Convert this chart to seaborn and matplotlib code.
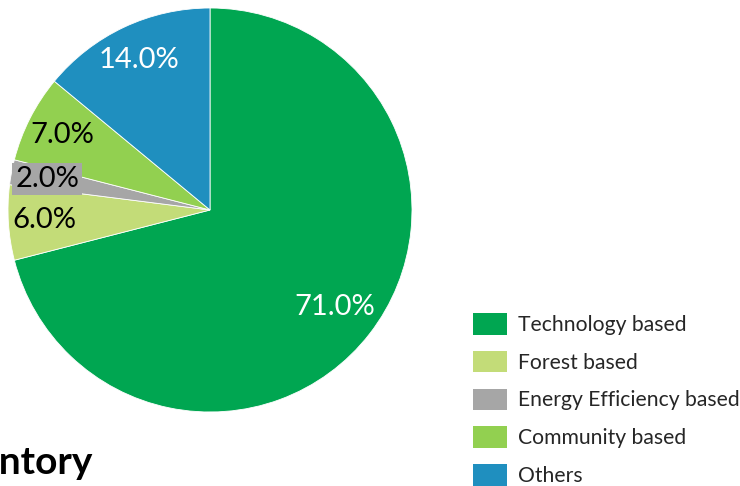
import matplotlib
matplotlib.use("Agg")
import matplotlib.pyplot as plt
import matplotlib.patches as mpatches
import numpy as np
import seaborn as sns

categories = ["Technology based", "Forest based", "Energy Efficiency based", "Community based", "Others"]
values = [71.0, 6.0, 2.0, 7.0, 14.0]
colors = ["#00A651", "#C3DC78", "#A6A6A6", "#92D050", "#1F8FBF"]
label_colors = ["white", "black", "black", "black", "white"]
title_text = "Inventory"

sns.set_theme(style="white")
plt.rcParams["font.family"] = ["Lato", "DejaVu Sans"]

W, H = 740, 486
fig = plt.figure(figsize=(W / 100, H / 100), dpi=100)
fig.patch.set_facecolor("white")

cx, cy, r = 210, 210, 202
ax = fig.add_axes([(cx - r) / W, (H - cy - r) / H, 2 * r / W, 2 * r / H])
wedges, texts, autotexts = ax.pie(
    values, colors=colors, startangle=90, counterclock=False,
    autopct="%.1f%%", pctdistance=0.82, radius=1.0,
    wedgeprops=dict(linewidth=0.6, edgecolor="white"),
    textprops=dict(fontsize=21),
)
ax.set_xlim(-1, 1)
ax.set_ylim(-1, 1)
ax.set_aspect("equal")
ax.axis("off")

for t, c in zip(autotexts, label_colors):
    t.set_color(c)
autotexts[2].set_bbox(dict(facecolor=colors[2], edgecolor="none", pad=2))

# pull the large slice's label slightly inward like the reference
w0 = wedges[0]
mid = np.deg2rad((w0.theta1 + w0.theta2) / 2)
autotexts[0].set_position((0.78 * np.cos(mid), 0.78 * np.sin(mid)))

handles = [mpatches.Patch(facecolor=c, edgecolor="none") for c in colors]
fig.legend(handles, categories, loc="upper left",
           bbox_to_anchor=(473 / W, 1 - 313 / H), frameon=False,
           fontsize=15.2, handlelength=1.63, handleheight=1.2,
           labelspacing=0.75, handletextpad=0.48, borderpad=0, borderaxespad=0)

fig.text(93 / W, 1 - 474 / H, title_text, ha="right", va="baseline",
         fontsize=28, fontweight="bold", color="black")

fig.savefig("out.png", dpi=100)
